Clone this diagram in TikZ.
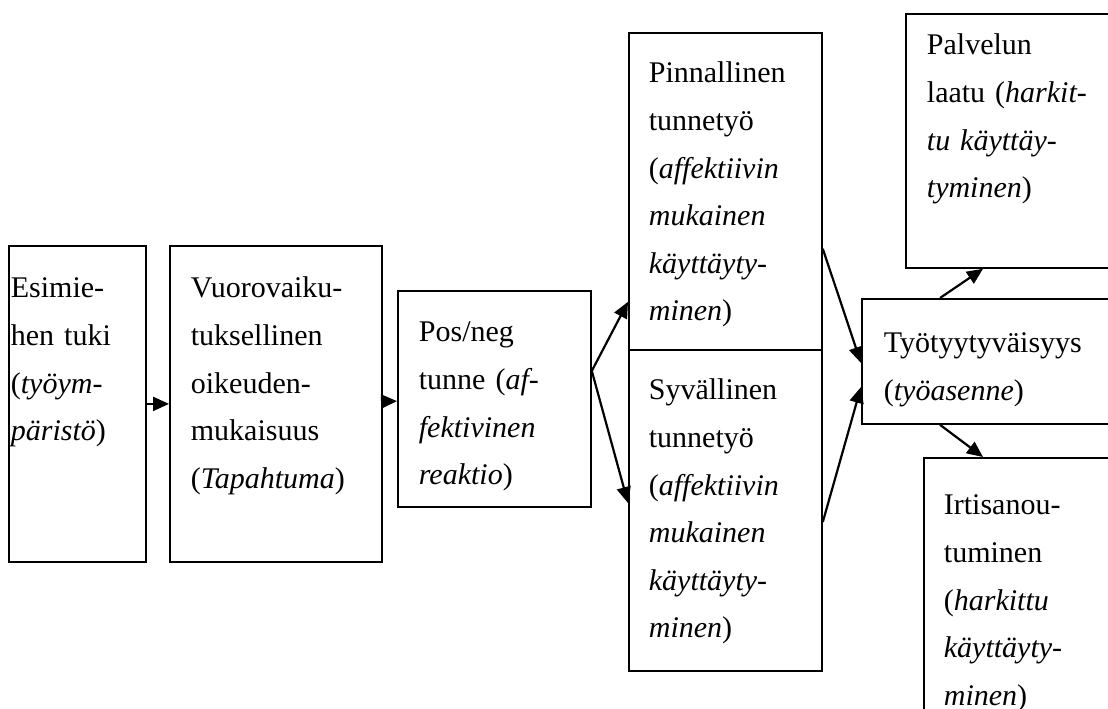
\documentclass[tikz,border=0pt]{standalone}
\usepackage{fontspec}
\setmainfont{Liberation Serif}
\usetikzlibrary{arrows.meta}

\begin{document}
\begin{tikzpicture}[
    x=1pt, y=1pt,
    box/.style={draw, line width=1.8pt, anchor=north west, align=left, inner ysep=0pt, font=\fontsize{30}{47.6}\selectfont},
    link/.style={line width=2.2pt, -{Triangle[length=16pt, width=14pt]}}
]
\useasboundingbox (0,0) rectangle (1108,-709);
\clip (0,0) rectangle (1108,-709);
\node (esimies) [box, inner xsep=2pt, text width=133pt, text height=52pt, text depth=264pt] at (8,-245) {Esimie-\\hen tuki\\(\textit{työym-}\\\textit{päristö})};
\node (vuoro) [box, inner xsep=21pt, text width=170pt, text height=52pt, text depth=264pt] at (169,-245) {Vuorovaiku-\\tuksellinen\\oikeuden-\\mukaisuus\\(\textit{Tapahtuma})};
\node (posneg) [box, inner xsep=21pt, text width=151pt, text height=51pt, text depth=165pt] at (397,-290) {Pos/neg\\tunne (\textit{af-}\\\textit{fektivinen}\\\textit{reaktio})};
\node (pinnallinen) [box, inner xsep=20pt, text width=153pt, text height=50pt, text depth=267pt] at (628,-32) {Pinnallinen\\tunnetyö\\(\textit{affektiivin}\\\textit{mukainen}\\\textit{käyttäyty-}\\\textit{minen})};
\node (syvallinen) [box, inner xsep=20pt, text width=153pt, text height=50pt, text depth=271pt] at (628,-349) {Syvällinen\\tunnetyö\\(\textit{affektiivin}\\\textit{mukainen}\\\textit{käyttäyty-}\\\textit{minen})};
\node (palvelu) [box, inner xsep=21pt, text width=183pt, text height=41pt, text depth=213pt] at (905,-13) {Palvelun\\laatu (\textit{harkit-}\\\textit{tu käyttäy-}\\\textit{tyminen})};
\node (tyytyvaisyys) [box, inner xsep=22pt, text width=225pt, text height=54pt, text depth=71pt] at (861,-298) {Työtyytyväisyys\\(\textit{työasenne})};
\node (irtisanoutuminen) [box, inner xsep=20pt, text width=167pt, text height=57pt, text depth=201pt] at (923,-457) {Irtisanou-\\tuminen\\(\textit{harkittu}\\\textit{käyttäyty-}\\\textit{minen})};

\draw[link] (esimies) -- (vuoro);
\draw[link] (vuoro) -- (posneg);
\draw[link] ([yshift=28pt]posneg.east) -- ([yshift=49pt]pinnallinen.south west);
\draw[link] ([yshift=28pt]posneg.east) -- ([yshift=-154pt]syvallinen.north west);
\draw[link] ([yshift=102pt]pinnallinen.south east) -- ([yshift=-65pt]tyytyvaisyys.north west);
\draw[link] ([yshift=-173pt]syvallinen.north east) -- ([yshift=-89pt]tyytyvaisyys.north west);
\draw[link] ([xshift=79pt]tyytyvaisyys.north west) -- ([xshift=78pt]palvelu.south west);
\draw[link] ([xshift=79pt]tyytyvaisyys.south west) -- ([xshift=60pt]irtisanoutuminen.north west);
\end{tikzpicture}
\end{document}
